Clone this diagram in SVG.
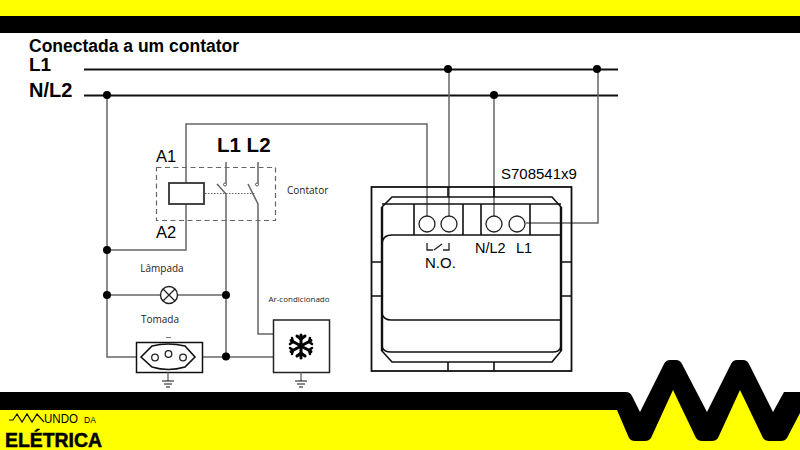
<svg xmlns="http://www.w3.org/2000/svg" width="800" height="450" viewBox="0 0 800 450">
<style>
.t{font-family:"Liberation Sans",Arial,sans-serif;fill:#000}
.b{font-weight:bold}
.n{font-family:"Open Sans","Noto Sans",sans-serif;fill:#222}
.w{fill:none;stroke:#666;stroke-width:1.5}
.k{fill:none;stroke:#111;stroke-width:1.6}
.th{fill:none;stroke:#111;stroke-width:2.4}
.h{fill:none;stroke:#222;stroke-width:1.3}
.d{fill:#000}
</style>
<defs>
<g id="gnd" class="k"><path d="M0 0V9" stroke="#555" stroke-width="1.2"/><path d="M-6 9H6M-4 12H4M-2 15H2" stroke-width="1.2"/></g>
</defs>
<rect width="800" height="450" fill="#fff"/>
<g id="frame">
<rect width="800" height="16" fill="#ffff00"/>
<rect y="16" width="800" height="17" fill="#000"/>
<polygon points="0,405 617,405 640,425 673,380 707,425 740,380 773,425 790,405 800,405 800,450 0,450" fill="#ffff00"/>
<path class="d" d="M0 392L626 392Q630 392 632 396L640 412L664 364Q666 360 670 360L676 360Q680 360 682 364L707 412L731 364Q733 360 737 360L743 360Q747 360 749 364L773 412L784 392L800 392L800 413L787 438Q785 441 781 441L769 441Q765 441 763 438L740 390L718 438Q716 441 712 441L702 441Q698 441 696 438L673 390L651 438Q649 441 645 441L635 441Q631 441 629 438L617 410L0 410Z"/>
</g>
<g id="logo">
<path d="M9 420L13 420L17 414L22 422L27 414L32 422L37 414L44 422" fill="none" stroke="#111" stroke-width="1.2"/>
<text class="t" x="44" y="423" font-size="12" textLength="34" lengthAdjust="spacingAndGlyphs">UNDO</text>
<text class="t" x="84" y="423" font-size="8.500">DA</text>
<text class="t b" x="5" y="447" font-size="20" textLength="97" lengthAdjust="spacingAndGlyphs" stroke="#000" stroke-width="0.5">ELÉTRICA</text>
</g>
<text class="t b" x="29" y="52" font-size="17.500">Conectada a um contator</text>
<text class="t b" x="29" y="71" font-size="19">L1</text>
<text class="t b" x="29" y="97" font-size="20">N/L2</text>
<g id="connectors">
<path d="M84 69.500H618M84 95.500H618" stroke="#111" stroke-width="1.8" fill="none"/>
<path class="w" d="M107 95V357H136"/>
<path class="w" d="M107 250H186V124H427V216"/>
<path class="w" d="M449 69V216M494 95V216M526 223H598V69"/>
<path class="w" d="M107 295H160M178 295H226"/>
<path class="w" d="M226 162V184M217 184L226 194V357M258 162V184M248 184L258 204V334H273"/>
<path class="w" d="M202 357H273"/>
<path d="M205 193.500H256" stroke="#666" stroke-width="1" stroke-dasharray="1.500 1.500" fill="none"/>
<circle class="d" cx="107" cy="95" r="4"/>
<circle class="d" cx="448" cy="69" r="4"/>
<circle class="d" cx="494" cy="95" r="4"/>
<circle class="d" cx="597" cy="69" r="4"/>
<circle class="d" cx="107" cy="250" r="4"/>
<circle class="d" cx="107" cy="295" r="4"/>
<circle class="d" cx="226" cy="295" r="4"/>
<circle class="d" cx="226" cy="356.500" r="4"/>
</g>
<g id="contator">
<rect x="156.500" y="167.500" width="119" height="53" fill="none" stroke="#666" stroke-width="1.2" stroke-dasharray="5 3.500"/>
<rect x="169" y="183" width="35" height="21" fill="#fff" stroke="#333" stroke-width="1.8"/>
<circle cx="225" cy="184.500" r="1.500" fill="#fff" stroke="#555"/>
<circle cx="257" cy="184.500" r="1.500" fill="#fff" stroke="#555"/>
<text class="t" x="156" y="161.500" font-size="16.500">A1</text>
<text class="t" x="156" y="238" font-size="16.500">A2</text>
<text class="t b" x="217" y="152" font-size="20.500">L1 L2</text>
<text class="n" x="287" y="194" font-size="10">Contator</text>
</g>
<g id="lampada">
<text class="n" x="162" y="272" font-size="10" text-anchor="middle">Lâmpada</text>
<circle cx="169" cy="295" r="8.500" fill="#fff" stroke="#222" stroke-width="1.4"/>
<path d="M163 289L175 301M175 289L163 301" stroke="#222" stroke-width="1.300"/>
</g>
<g id="tomada">
<text class="n" x="160" y="323" font-size="10" text-anchor="middle">Tomada</text>
<path d="M166 337.500H171" stroke="#777" stroke-width="1"/>
<rect x="136.500" y="342.500" width="66" height="30" fill="#fff" stroke="#111" stroke-width="1.500"/>
<path class="k" d="M141 357L152 346Q168 342 185 346L195 357L185 367Q168 372 152 367Z"/>
<circle class="h" cx="155" cy="357.500" r="3.300"/>
<circle class="h" cx="168.500" cy="354" r="3.300"/>
<circle class="h" cx="183" cy="357.500" r="3.300"/>
<use href="#gnd" x="168" y="372"/>
</g>
<g id="ar-condicionado">
<text class="n" x="299" y="302" font-size="8" text-anchor="middle">Ar-condicionado</text>
<rect x="273.500" y="320" width="56" height="52.500" fill="#fff" stroke="#222" stroke-width="1.500"/>
<g stroke="#000" stroke-width="3" fill="none" stroke-linecap="round">
<path d="M301 335V358M291 340.500L311 351.500M311 340.500L291 351.500"/>
<path d="M297 336L301 339L305 336M297 356L301 353L305 356"/>
<path d="M290 344L293 342L292 338M312 344L309 342L310 338M290 348L293 350L292 354M312 348L309 350L310 354" stroke-width="2.500"/>
</g>
<use href="#gnd" x="301" y="372"/>
</g>
<g id="rele">
<rect x="371.500" y="187" width="200" height="184" fill="none" stroke="#111" stroke-width="1.800"/>
<path class="k" d="M392 197H552L561 207V351L552 362H392L382 351V207Z"/>
<path class="th" d="M382 207V351M561 207V351"/>
<path class="k" d="M448 187V197M494 187V197M448 362V371M494 362V371M371 262H382M371 296H382M561 262H572M561 296H572"/>
<path class="k" d="M382 204H561M414 204V235M463 204V235M481 204V235M530 204V235"/>
<path class="k" d="M382 245Q382 235 392 235H561"/>
<path class="k" d="M382 314Q384 320 391 320H561"/>
<path class="k" d="M382 347Q384 352 391 352H553Q559 352 561 347"/>
<circle class="h" cx="427" cy="224" r="8"/>
<circle class="h" cx="449" cy="224" r="8"/>
<circle class="h" cx="494" cy="224" r="8"/>
<circle class="h" cx="517" cy="224" r="8"/>
<path class="h" d="M427 243V250H433M434 250L442 244M443 250H449V243"/>
<text class="t" x="425" y="268" font-size="15">N.O.</text>
<text class="t" x="475" y="252.500" font-size="14.500">N/L2</text>
<text class="t" x="516" y="252.500" font-size="14.500">L1</text>
<text class="t" x="501" y="179" font-size="15">S708541x9</text>
</g>
</svg>
